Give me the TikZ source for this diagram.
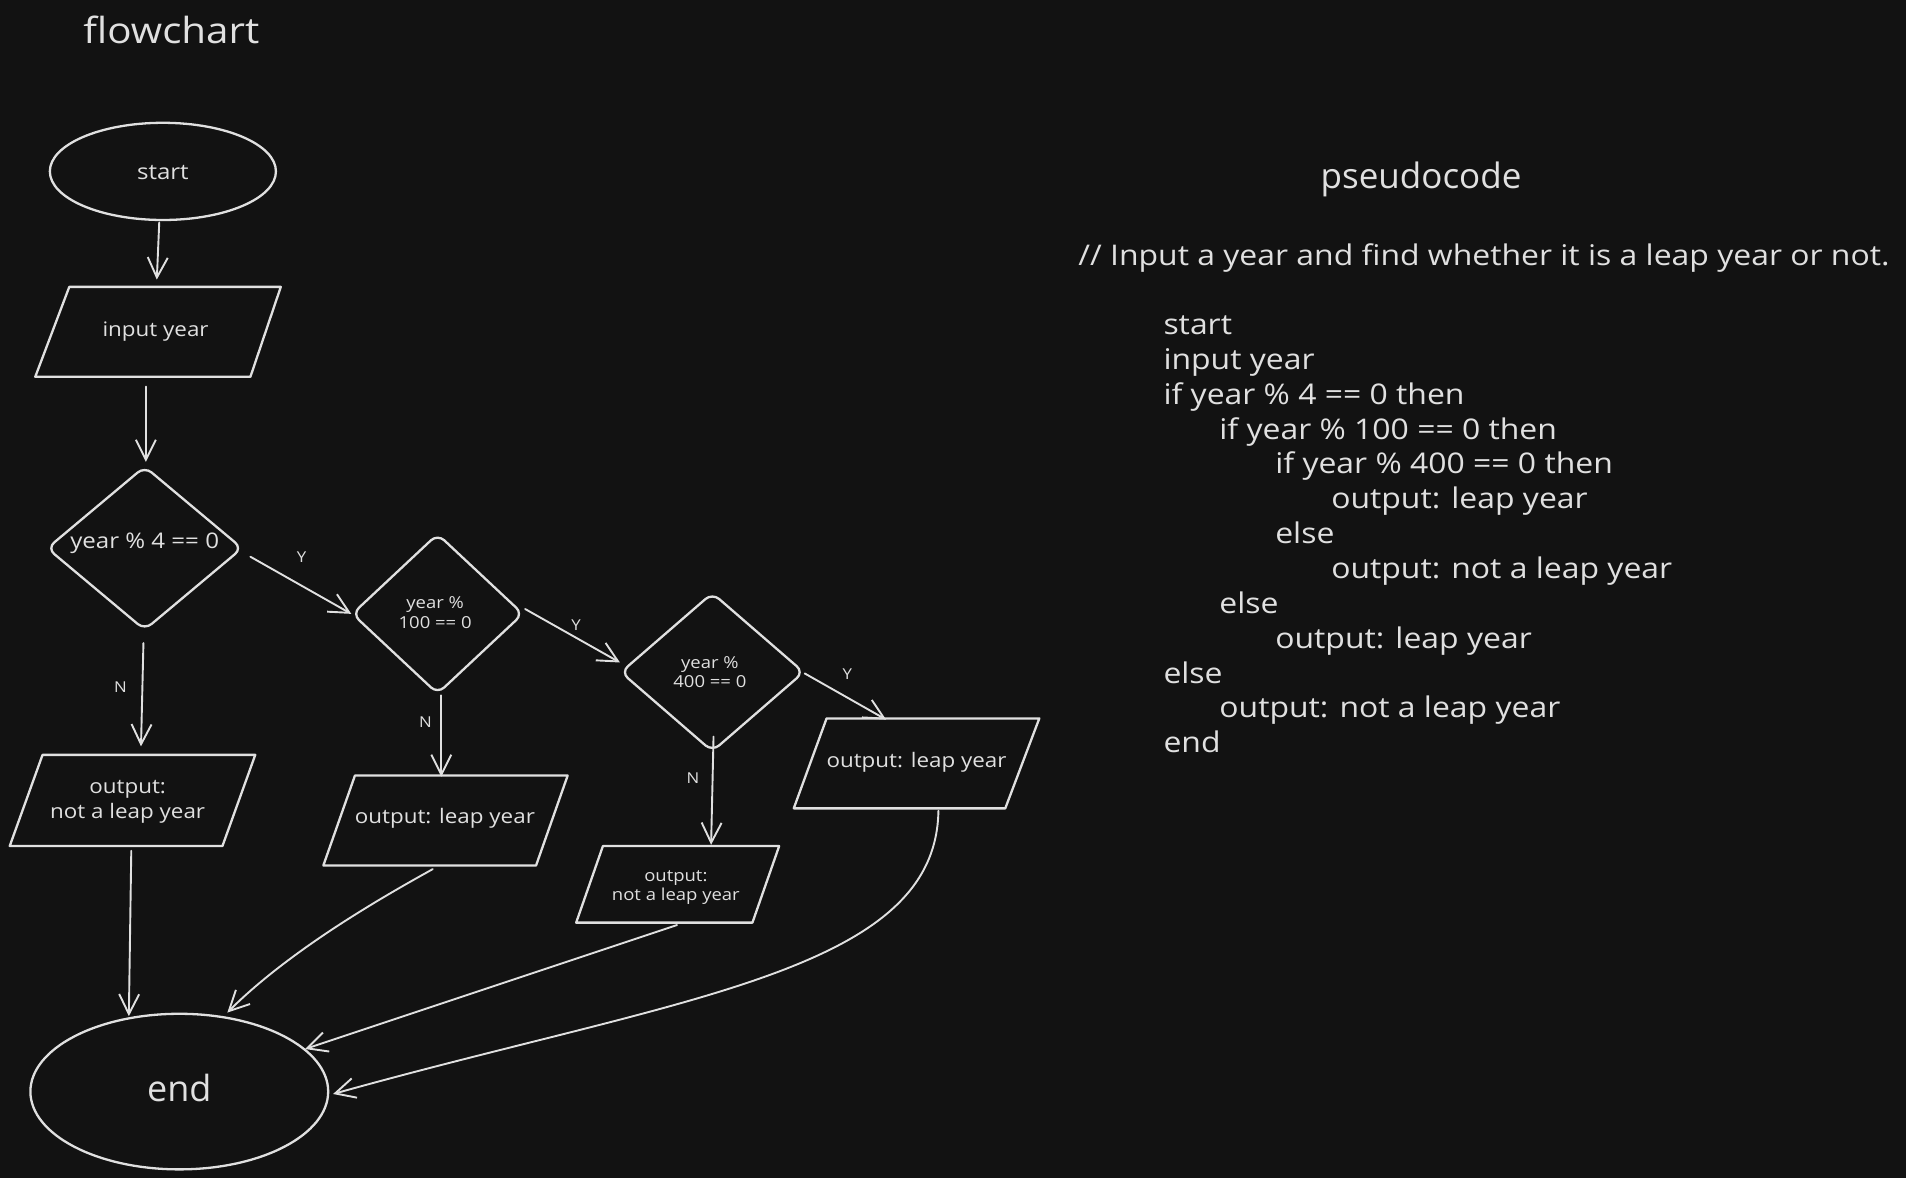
\documentclass[tikz,border=0pt]{standalone}
\usepackage{fontspec}
\setmainfont{Open Sans}[FakeStretch=1.12]
\newfontfamily\plainfont{Open Sans}
\usetikzlibrary{arrows.meta,shapes.geometric}
\definecolor{bg}{HTML}{121212}
\definecolor{fg}{HTML}{E0E0E0}
\begin{document}
\begin{tikzpicture}[x=1.2156pt,y=-1.2156pt,
  shp/.style={draw=fg, line width=2.3pt, line join=round},
  conn/.style={draw=fg, line width=1.9pt, line cap=round, -{Straight Barb[length=20pt,width=20pt]}},
  txt/.style={text=fg, inner sep=0pt, align=center, font=\fontsize{20}{25}\selectfont},
  bigtxt/.style={text=fg, inner sep=0pt, align=center, font=\fontsize{21.5}{26}\selectfont},
  small/.style={text=fg, inner sep=0pt, align=center, font=\fontsize{16.5}{19.5}\selectfont},
  lbl/.style={text=fg, inner sep=0pt, font=\fontsize{15}{18}\selectfont},
  dia/.style={shape=diamond, shp, rounded corners=9pt, inner sep=0pt},
  oval/.style={shape=ellipse, shp, inner sep=0pt},
  ttl/.style={text=fg, inner sep=0pt, anchor=base, font=\fontsize{36}{44}\selectfont},
  code/.style={text=fg, inner sep=0pt, anchor=mid west, font=\fontsize{28.5}{35}\selectfont}]
\fill[bg] (0,0) rectangle (1568,969);

% titles
\node[ttl] (tflow) at (141,35.4) {flowchart};
\node[ttl, font=\plainfont\fontsize{35}{44}\selectfont] (tpseudo) at (1169,155) {pseudocode};

% flowchart shapes
\node[oval, minimum width=226.1pt, minimum height=97.2pt] (start) at (134,141) {};
\node[bigtxt] (starttxt) at (134,142) {start};

\draw[shp] (57,236) -- (231,236) -- (206,310) -- (29,310) -- cycle;
\node[txt] (input) at (128,273) {input year};

\node[dia, minimum width=195.7pt, minimum height=164.1pt] (d1) at (119,451) {};
\node[bigtxt] (d1txt) at (119,447) {year \% 4 == 0};

\node[dia, minimum width=171.4pt, minimum height=160.5pt] (d2) at (360,505) {};
\node[small] (d2txt) at (358,504) {year \%\\100 == 0};

\node[dia, minimum width=183.6pt, minimum height=159.2pt] (d3) at (586,553) {};
\node[small] (d3txt) at (584,553) {year \%\\400 == 0};

\draw[shp] (35,621) -- (210,621) -- (183,696) -- (8,696) -- cycle;
\node[txt] (o1) at (105,660) {output:\\not a leap year};

\draw[shp] (292,638) -- (467,638) -- (441,712) -- (266,712) -- cycle;
\node[txt] (o2) at (366,673) {output: leap year};

\draw[shp] (496,696) -- (641,696) -- (619,759) -- (474,759) -- cycle;
\node[small] (o3) at (556,730) {output:\\not a leap year};

\draw[shp] (680,591) -- (855,591) -- (827,665) -- (653,665) -- cycle;
\node[txt] (o4) at (754,627) {output: leap year};

\node[oval, minimum width=297.8pt, minimum height=155.6pt] (end) at (147.5,898) {};
\node[text=fg, inner sep=0pt, font=\plainfont\fontsize{36}{44}\selectfont] (endtxt) at (147.5,895) {end};

% connector end points
\coordinate (a1s) at (131,183); \coordinate (a1e) at (129,230);
\coordinate (a2s) at (120,318); \coordinate (a2e) at (120,380);
\coordinate (y1s) at (206,458); \coordinate (y1e) at (289,505);
\coordinate (y2s) at (432,501); \coordinate (y2e) at (510,545);
\coordinate (y3s) at (662,554); \coordinate (y3e) at (729,592);
\coordinate (n1s) at (118,529); \coordinate (n1e) at (116,614);
\coordinate (n2s) at (363,572); \coordinate (n2e) at (363,639);
\coordinate (n3s) at (587,606); \coordinate (n3e) at (585,695);
\coordinate (e1s) at (108,700); \coordinate (e1e) at (106,836);
\coordinate (e2s) at (356,715); \coordinate (e2e) at (187,833);
\coordinate (e3s) at (557,761); \coordinate (e3e) at (251,863);
\coordinate (e4s) at (772,667); \coordinate (e4e) at (274,900);

\draw[conn] (a1s) -- (a1e);
\draw[conn] (a2s) -- (a2e);
\draw[conn] (y1s) -- (y1e);
\draw[conn] (y2s) -- (y2e);
\draw[conn] (y3s) -- (y3e);
\draw[conn] (n1s) -- (n1e);
\draw[conn] (n2s) -- (n2e);
\draw[conn] (n3s) -- (n3e);
\draw[conn] (e1s) -- (e1e);
\draw[conn] (e2s) .. controls (320,735) and (240,780) .. (e2e);
\draw[conn] (e3s) -- (e3e);
\draw[conn] (e4s) .. controls (770,800) and (560,820) .. (e4e);

% labels
\node[lbl] (ly1) at (248,458) {Y};
\node[lbl] (ly2) at (474,514) {Y};
\node[lbl] (ly3) at (697,555) {Y};
\node[lbl] (ln1) at (99,565) {N};
\node[lbl] (ln2) at (350,594) {N};
\node[lbl] (ln3) at (570,640) {N};

% pseudocode
\node[code] (c0) at (887,216) {// Input a year and find whether it is a leap year or not.};
\node[code] (c1) at (957,273) {start};
\node[code] (c2) at (957,301.7) {input year};
\node[code] (c3) at (957,330.3) {if year \% 4 == 0 then};
\node[code] (c4) at (1003,359) {if year \% 100 == 0 then};
\node[code] (c5) at (1049,387.7) {if year \% 400 == 0 then};
\node[code] (c6) at (1095,416.3) {output: leap year};
\node[code] (c7) at (1049,445) {else};
\node[code] (c8) at (1095,473.7) {output: not a leap year};
\node[code] (c9) at (1003,502.3) {else};
\node[code] (c10) at (1049,531) {output: leap year};
\node[code] (c11) at (957,559.7) {else};
\node[code] (c12) at (1003,588.3) {output: not a leap year};
\node[code] (c13) at (957,617) {end};
\end{tikzpicture}
\end{document}
